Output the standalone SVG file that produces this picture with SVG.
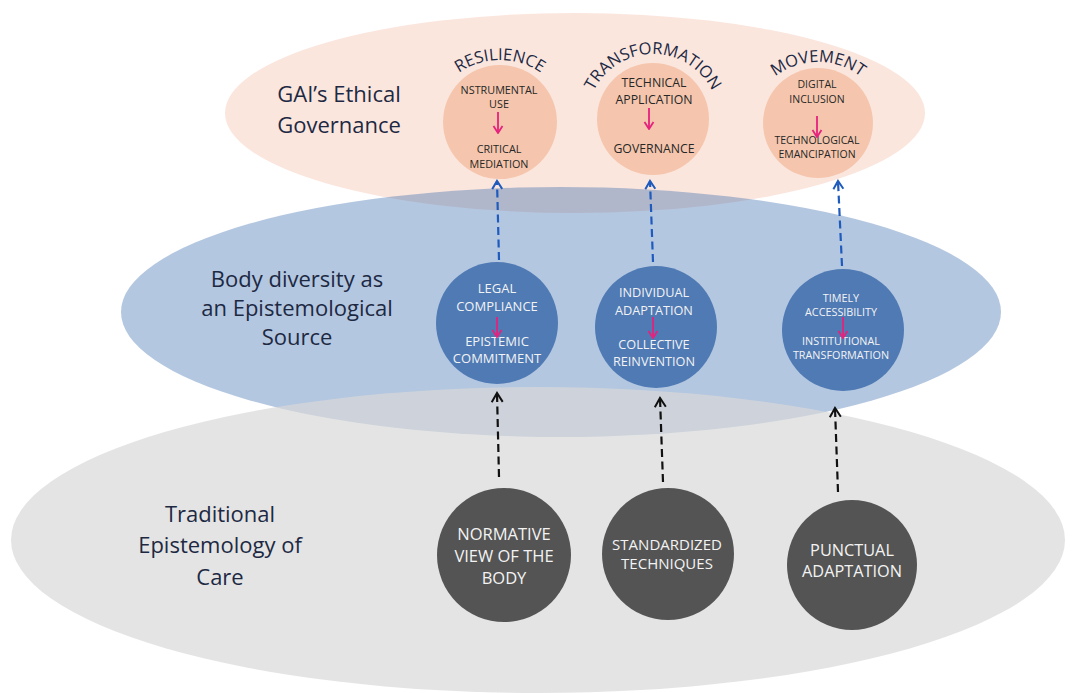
<svg xmlns="http://www.w3.org/2000/svg" width="1077" height="693" viewBox="0 0 1077 693">
  <style>
    text { font-family: "Open Sans", "Liberation Sans", "DejaVu Sans", sans-serif; text-anchor: middle; }
    .lbl { font-size: 22px; fill: #1d2943; }
    .arc { font-size: 16.5px; fill: #1d2943; }
    .c-peach { fill: #f5c6ad; }
    .c-blue { fill: #4f7ab4; }
    .c-dark { fill: #545454; }
    .t-peach { fill: #262626; }
    .t-light { fill: #f3f3f3; }
    .dash-blue { fill: none; stroke: #1f5bbd; stroke-width: 2.2; stroke-dasharray: 8 4.5; }
    .dash-black { fill: none; stroke: #111111; stroke-width: 2.2; stroke-dasharray: 8 4.5; }
    .pink { fill: none; stroke: #e6227d; stroke-width: 1.8; }
  </style>
  <defs>
    <marker id="head-blue" viewBox="-10 -7 12 14" refX="0" refY="0" markerWidth="12" markerHeight="14" orient="auto" markerUnits="userSpaceOnUse">
      <path d="M-8,-5 L0,0 L-8,5" fill="none" stroke="#1f5bbd" stroke-width="2"/>
    </marker>
    <marker id="head-black" viewBox="-11 -7 13 14" refX="0" refY="0" markerWidth="13" markerHeight="14" orient="auto" markerUnits="userSpaceOnUse">
      <path d="M-9,-5.5 L0,0 L-9,5.5" fill="none" stroke="#111111" stroke-width="2"/>
    </marker>
    <marker id="head-pink" viewBox="-9 -6 10 12" refX="0" refY="0" markerWidth="10" markerHeight="12" orient="auto" markerUnits="userSpaceOnUse">
      <path d="M-7,-4.5 L0,0 L-7,4.5" fill="none" stroke="#e6227d" stroke-width="1.8"/>
    </marker>
    <!-- baselines for the curved headings -->
    <path id="arc-res" d="M428,132 A72,72 0 0 1 572,132"/>
    <path id="arc-tra" d="M587,120 A66,66 0 0 1 719,120"/>
    <path id="arc-mov" d="M748,132 A70,70 0 0 1 888,132"/>
  </defs>

  <!-- Layers -->
  <g id="layer-governance">
    <ellipse cx="575" cy="113" rx="350" ry="100" fill="#fbe6de"/>
  </g>
  <g id="layer-diversity">
    <ellipse cx="561" cy="312" rx="440" ry="125" fill="#3468ab" fill-opacity="0.37"/>
  </g>
  <g id="layer-traditional">
    <ellipse cx="538" cy="540" rx="527" ry="153" fill="#d9d9d9" fill-opacity="0.7"/>
  </g>

  <g id="labels">
    <text class="lbl" x="339" y="102">GAI’s Ethical</text>
    <text class="lbl" x="339" y="133">Governance</text>
    <text class="lbl" x="297" y="287">Body diversity as</text>
    <text class="lbl" x="297" y="316">an Epistemological</text>
    <text class="lbl" x="297" y="345">Source</text>
    <text class="lbl" x="220" y="522">Traditional</text>
    <text class="lbl" x="220" y="553">Epistemology of</text>
    <text class="lbl" x="220" y="585">Care</text>
  </g>

  <!-- Connectors between layers -->
  <g id="connectors">
    <line class="dash-blue" x1="499" y1="260" x2="497" y2="181" marker-end="url(#head-blue)"/>
    <line class="dash-blue" x1="653" y1="262" x2="650" y2="181" marker-end="url(#head-blue)"/>
    <line class="dash-blue" x1="842" y1="266" x2="838" y2="181" marker-end="url(#head-blue)"/>
    <line class="dash-black" x1="499" y1="477" x2="497" y2="393" marker-end="url(#head-black)"/>
    <line class="dash-black" x1="663" y1="482" x2="660" y2="398" marker-end="url(#head-black)"/>
    <line class="dash-black" x1="838" y1="492" x2="835" y2="408" marker-end="url(#head-black)"/>
  </g>

  <!-- Governance nodes -->
  <g id="node-resilience">
    <circle class="c-peach" cx="500" cy="122" r="57"/>
    <text class="arc"><textPath href="#arc-res" startOffset="50%">RESILIENCE</textPath></text>
    <g class="t-peach" font-size="10.8">
      <text x="499" y="94">NSTRUMENTAL</text>
      <text x="499" y="108">USE</text>
      <text x="499" y="153">CRITICAL</text>
      <text x="499" y="168">MEDIATION</text>
    </g>
    <line class="pink" x1="498" y1="112" x2="498" y2="133" marker-end="url(#head-pink)"/>
  </g>
  <g id="node-transformation">
    <circle class="c-peach" cx="653" cy="119" r="56"/>
    <text class="arc" font-size="16"><textPath href="#arc-tra" startOffset="50%">TRANSFORMATION</textPath></text>
    <g class="t-peach" font-size="12.3">
      <text x="654" y="87">TECHNICAL</text>
      <text x="654" y="104">APPLICATION</text>
      <text x="654" y="153">GOVERNANCE</text>
    </g>
    <line class="pink" x1="649" y1="108" x2="649" y2="129" marker-end="url(#head-pink)"/>
  </g>
  <g id="node-movement">
    <circle class="c-peach" cx="818" cy="123" r="55"/>
    <text class="arc" font-size="15.5"><textPath href="#arc-mov" startOffset="50%">MOVEMENT</textPath></text>
    <g class="t-peach" font-size="10.5">
      <text x="817" y="88">DIGITAL</text>
      <text x="817" y="103">INCLUSION</text>
      <text x="817" y="144">TECHNOLOGICAL</text>
      <text x="817" y="158">EMANCIPATION</text>
    </g>
    <line class="pink" x1="817" y1="116" x2="817" y2="137" marker-end="url(#head-pink)"/>
  </g>

  <!-- Body diversity nodes -->
  <g id="node-legal">
    <circle class="c-blue" cx="497" cy="323" r="61"/>
    <g class="t-light" font-size="13">
      <text x="497" y="293">LEGAL</text>
      <text x="497" y="311">COMPLIANCE</text>
      <text x="497" y="346">EPISTEMIC</text>
      <text x="497" y="363">COMMITMENT</text>
    </g>
    <line class="pink" x1="497" y1="317" x2="497" y2="337" marker-end="url(#head-pink)"/>
  </g>
  <g id="node-individual">
    <circle class="c-blue" cx="656" cy="327" r="61"/>
    <g class="t-light" font-size="12.7">
      <text x="654" y="297">INDIVIDUAL</text>
      <text x="654" y="315">ADAPTATION</text>
      <text x="654" y="349">COLLECTIVE</text>
      <text x="654" y="366">REINVENTION</text>
    </g>
    <line class="pink" x1="653" y1="317" x2="653" y2="338" marker-end="url(#head-pink)"/>
  </g>
  <g id="node-timely">
    <circle class="c-blue" cx="843" cy="330" r="61"/>
    <g class="t-light" font-size="10.8">
      <text x="841" y="302">TIMELY</text>
      <text x="841" y="316">ACCESSIBILITY</text>
      <text x="841" y="345">INSTITUTIONAL</text>
      <text x="841" y="359">TRANSFORMATION</text>
    </g>
    <line class="pink" x1="843" y1="317" x2="843" y2="338" marker-end="url(#head-pink)"/>
  </g>

  <!-- Traditional care nodes -->
  <g id="node-normative">
    <circle class="c-dark" cx="504" cy="555" r="67"/>
    <g class="t-light" font-size="16.5">
      <text x="504" y="540">NORMATIVE</text>
      <text x="504" y="562">VIEW OF THE</text>
      <text x="504" y="584">BODY</text>
    </g>
  </g>
  <g id="node-standardized">
    <circle class="c-dark" cx="668" cy="554" r="66"/>
    <g class="t-light" font-size="15">
      <text x="667" y="550">STANDARDIZED</text>
      <text x="667" y="569">TECHNIQUES</text>
    </g>
  </g>
  <g id="node-punctual">
    <circle class="c-dark" cx="852" cy="565" r="65"/>
    <g class="t-light" font-size="16.3">
      <text x="852" y="556">PUNCTUAL</text>
      <text x="852" y="577">ADAPTATION</text>
    </g>
  </g>
</svg>
